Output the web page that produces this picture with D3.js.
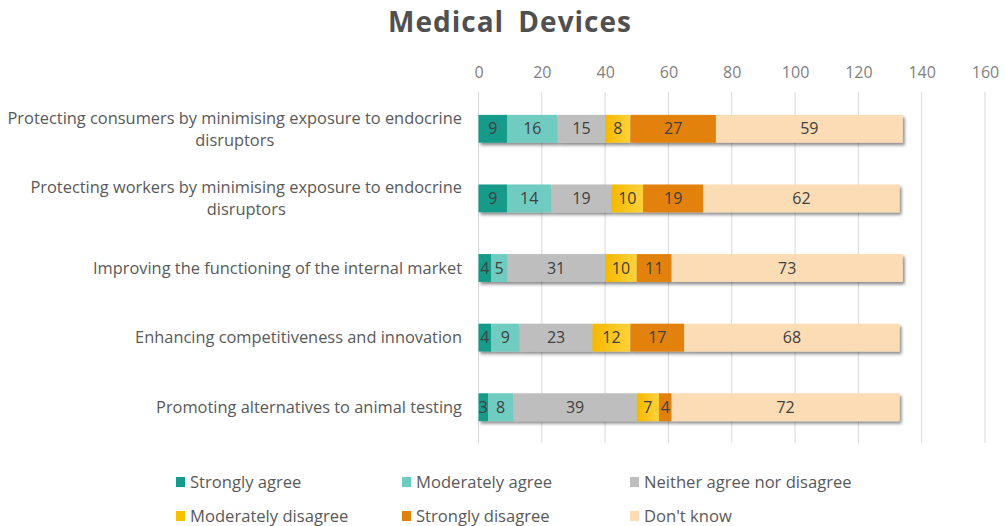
<!DOCTYPE html>
<html><head><meta charset="utf-8">
<script src="https://cdn.jsdelivr.net/npm/d3@7"></script>
<style>
body{margin:0;background:#fff;}
text{font-family:"Open Sans",sans-serif;}
</style></head>
<body><svg id="chart" width="1005" height="526"></svg>
<script>
const categories = [
  "Protecting consumers by minimising exposure to endocrine|disruptors",
  "Protecting workers by minimising exposure to endocrine|disruptors",
  "Improving the functioning of the internal market",
  "Enhancing competitiveness and innovation",
  "Promoting alternatives to animal testing"
];
const seriesNames = ["Strongly agree","Moderately agree","Neither agree nor disagree","Moderately disagree","Strongly disagree","Don't know"];
const stronglyAgree = [9,9,4,4,3];
const moderatelyAgree = [16,14,5,9,8];
const neither = [15,19,31,23,39];
const moderatelyDisagree = [8,10,10,12,7];
const stronglyDisagree = [27,19,11,17,4];
const dontKnow = [59,62,73,68,72];
const tickValues = [0,20,40,60,80,100,120,140,160];
const colors = ["#149b8b","#6fccc1","#bebebe","url(#gradY)","#e2820e","#fcdcb5"];
const legendColors = ["#149b8b","#6fccc1","#bebebe","#f7c100","#e2820e","#fcdcb5"];

const seriesValues = [stronglyAgree, moderatelyAgree, neither, moderatelyDisagree, stronglyDisagree, dontKnow];
const rows = categories.map((c,i)=>{ const o={cat:c}; seriesNames.forEach((s,j)=>o[s]=seriesValues[j][i]); return o; });

const svg = d3.select("#chart");
const defs = svg.append("defs");
const g1 = defs.append("linearGradient").attr("id","gradY").attr("x1","0").attr("x2","1").attr("y1","0").attr("y2","0");
g1.append("stop").attr("offset","0%").attr("stop-color","#f5b800");
g1.append("stop").attr("offset","100%").attr("stop-color","#ffd23c");
const f = defs.append("filter").attr("id","shadow").attr("x","-5%").attr("y","-20%").attr("width","110%").attr("height","160%");
f.append("feDropShadow").attr("dx",2).attr("dy",2.5).attr("stdDeviation",1.5).attr("flood-color","#000").attr("flood-opacity",0.45);

const x = d3.scaleLinear().domain([0,160]).range([478.5,985]);
const y = d3.scaleBand().domain(categories).range([94,442]).paddingInner(0.6).paddingOuter(0.3);

// title
svg.append("text").attr("x",510).attr("y",32).attr("text-anchor","middle")
  .attr("font-size",28).attr("font-weight",700).attr("fill","#505050")
  .attr("letter-spacing",1).attr("word-spacing",6).text("Medical Devices");

// gridlines
svg.append("g").selectAll("line").data(tickValues).join("line")
  .attr("x1",d=>x(d)).attr("x2",d=>x(d)).attr("y1",92).attr("y2",443)
  .attr("stroke","#d9d9d9").attr("stroke-width",1);

// top axis labels
const ax = svg.append("g").attr("transform","translate(0,78)")
  .call(d3.axisTop(x).tickValues(tickValues).tickSize(0).tickPadding(0));
ax.select(".domain").remove();
ax.selectAll("text").attr("font-size",16).attr("fill","#7f7f7f").attr("font-family","'Open Sans',sans-serif");

// stacks
const stack = d3.stack().keys(seriesNames)(rows);
const barG = svg.append("g");
rows.forEach((r,i)=>{
  const gr = barG.append("g").attr("filter","url(#shadow)");
  stack.forEach((s,j)=>{
    const d = s[i];
    gr.append("rect").attr("x",x(d[0])).attr("width",x(d[1])-x(d[0]))
      .attr("y",y(r.cat)).attr("height",y.bandwidth()).attr("fill",colors[j]);
  });
});
stack.forEach((s,j)=>{
  svg.append("g").selectAll("text").data(s).join("text")
    .attr("x",d=>(x(d[0])+x(d[1]))/2).attr("y",d=>y(d.data.cat)+y.bandwidth()/2)
    .attr("dy","0.35em").attr("text-anchor","middle").attr("font-size",16).attr("fill","#404040")
    .text(d=>d[1]-d[0]);
});

// category labels
const labG = svg.append("g");
const LF = 16.4;
categories.forEach(c=>{
  const lines = c.split("|");
  const cy = y(c)+y.bandwidth()/2;
  const right = 462;
  if(lines.length===1){
    labG.append("text").attr("x",right).attr("y",cy).attr("dy","0.35em").attr("text-anchor","end")
      .attr("font-size",LF).attr("fill","#595959").text(lines[0]);
  } else {
    const t1 = labG.append("text").attr("x",right).attr("y",cy-11).attr("dy","0.35em").attr("text-anchor","end")
      .attr("font-size",LF).attr("fill","#595959").text(lines[0]);
    const w = t1.node().getComputedTextLength();
    labG.append("text").attr("x",right-w/2).attr("y",cy+11).attr("dy","0.35em").attr("text-anchor","middle")
      .attr("font-size",LF).attr("fill","#595959").text(lines[1]);
  }
});

// legend
const legX = [176,402,630], legY = [482,516];
seriesNames.forEach((s,i)=>{
  const lx = legX[i%3], ly = legY[Math.floor(i/3)];
  svg.append("rect").attr("x",lx).attr("y",ly-5).attr("width",9).attr("height",10).attr("fill",legendColors[i]);
  svg.append("text").attr("x",lx+14).attr("y",ly).attr("dy","0.35em").attr("font-size",16.6).attr("fill","#595959").text(s);
});
</script></body></html>
